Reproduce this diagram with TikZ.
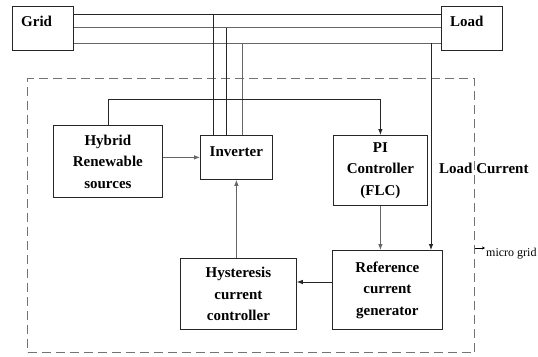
\documentclass[tikz,border=0pt]{standalone}
\usepackage{fontspec}
\setmainfont{Liberation Serif}
\usetikzlibrary{arrows.meta}
\begin{document}
\begin{tikzpicture}[x=1pt,y=-1pt,
  box/.style={draw=black!85, line width=0.8pt, rectangle, inner sep=0pt, anchor=north west},
  lbl/.style={font=\fontsize{15}{21.5}\selectfont\bfseries, align=center, inner sep=0pt},
  conn/.style={draw=black!85, line width=0.8pt},
  gconn/.style={draw=black!60, line width=0.9pt},
  arr/.style={conn, -{Latex[length=6pt,width=4.5pt]}},
  garr/.style={gconn, -{Latex[length=6pt,width=4.5pt]}},
  mgbox/.style={draw=black!55, line width=1pt, dash pattern=on 9pt off 5pt, rectangle, inner sep=0pt, anchor=north west},
]
\useasboundingbox (0,0) rectangle (538,356);

% level coordinates
\coordinate (l1) at (0,14.7);
\coordinate (l2) at (0,27.7);
\coordinate (l3) at (0,43.3);
\coordinate (v1) at (213,0);
\coordinate (v2) at (226,0);
\coordinate (v3) at (242,0);
\coordinate (vl) at (431,0);
\coordinate (fb) at (0,99);
\coordinate (rh) at (0,282);

% micro grid dashed frame
\node[mgbox, minimum width=447pt, minimum height=274pt] (mg) at (27,78) {};

% boxes
\node[box, minimum width=61pt, minimum height=44pt] (grid) at (12,6) {};
\node[lbl, anchor=base west] (gridt) at (21,27) {Grid};
\node[box, minimum width=61pt, minimum height=44pt] (load) at (441,6) {};
\node[lbl, anchor=base west] (loadt) at (450,27) {Load};

\node[box, lbl, minimum width=109pt, minimum height=72pt] (hyb) at (53,125) {Hybrid\\Renewable\\sources};
\node[box, minimum width=72pt, minimum height=44pt] (inv) at (200,135) {};
\node[lbl, anchor=base] (invt) at ([yshift=-21pt]inv.north) {Inverter};
\node[box, lbl, minimum width=94pt, minimum height=70pt] (pi) at (333,135) {PI\\Controller\\(FLC)};
\node[box, lbl, minimum width=110pt, minimum height=79pt] (ref) at (332,250) {Reference\\current\\generator};
\node[box, lbl, minimum width=116pt, minimum height=71pt] (hys) at (180,258) {Hysteresis\\current\\controller};

% texts
\node[lbl, anchor=base west] (lc) at (439,173) {Load Current};
\node[font=\fontsize{12}{14}\selectfont, anchor=base west, inner sep=0pt] (mgt) at (486,256) {micro grid};

% grid - load lines
\draw[conn] (grid.east |- l1) -- (load.west |- l1);
\draw[gconn] (grid.east |- l2) -- (load.west |- l2);
\draw[gconn] (grid.east |- l3) -- (load.west |- l3);

% lines to inverter
\draw[conn] (l1 -| v1) -- (inv.north -| v1);
\draw[conn] (l2 -| v2) -- (inv.north -| v2);
\draw[gconn] (l3 -| v3) -- (inv.north -| v3);

% load current sensing
\draw[arr] (l3 -| vl) -- (ref.north -| vl);

% feedback from source to PI
\draw[arr] (hyb.north |- hyb.north) -- (hyb.north |- fb) -| (pi.north);

% other arrows
\draw[garr] (hyb.east |- inv.west) -- (inv.west);
\draw[garr] (hys.north -| inv.south) -- (inv.south);
\draw[garr] (pi.south) -- (pi.south |- ref.north);
\draw[arr] (ref.west |- rh) -- (hys.east |- rh);

% small arrow at micro grid label
\draw[line width=0.6pt, -{Stealth[length=3pt,width=3pt]}] (mg.east |- 0,248) -- ++(10,0);
\end{tikzpicture}
\end{document}
